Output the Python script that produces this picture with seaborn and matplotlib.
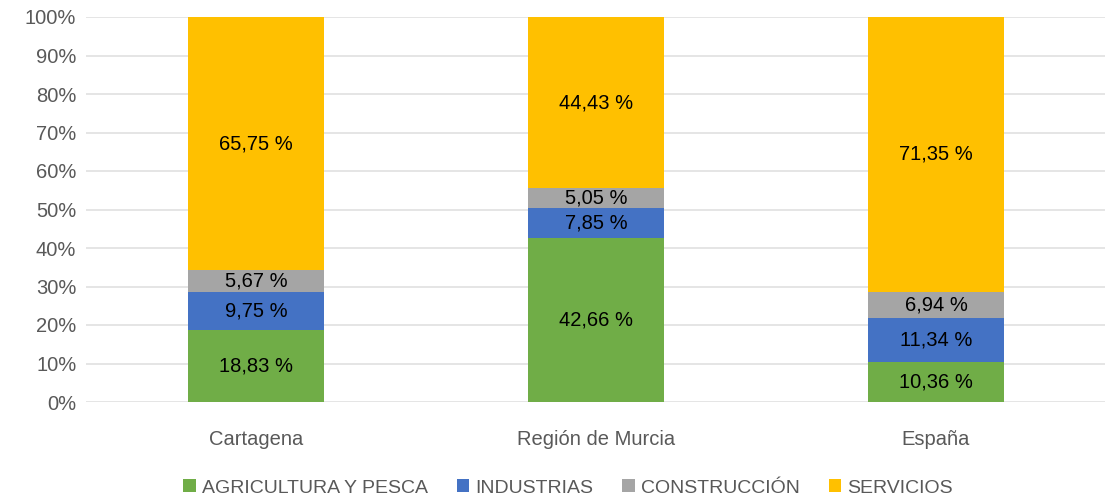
import matplotlib
matplotlib.use("Agg")
import matplotlib.pyplot as plt
import seaborn as sns
import numpy as np
from matplotlib.patches import Patch
from matplotlib.ticker import FixedLocator

categories = ["Cartagena", "Región de Murcia", "España"]
series_names = ["AGRICULTURA Y PESCA", "INDUSTRIAS", "CONSTRUCCIÓN", "SERVICIOS"]
agricultura = [18.83, 42.66, 10.36]
industrias = [9.75, 7.85, 11.34]
construccion = [5.67, 5.05, 6.94]
servicios = [65.75, 44.43, 71.35]
yticks = [0, 10, 20, 30, 40, 50, 60, 70, 80, 90, 100]

colors = ["#70AD47", "#4472C4", "#A5A5A5", "#FFC000"]
series = [agricultura, industrias, construccion, servicios]

sns.set_theme(style="white")
plt.rcParams["font.family"] = ["Liberation Sans", "DejaVu Sans"]

fig = plt.figure(figsize=(11.05, 5.0), dpi=100)
ax = fig.add_axes([86 / 1105, 98 / 500, 1020 / 1105, 385 / 500])

bottom = np.zeros(len(categories))
for name, vals, col in zip(series_names, series, colors):
    sns.barplot(x=categories, y=vals, bottom=bottom, color=col, width=0.4,
                ax=ax, zorder=3, saturation=1, linewidth=0)
    bottom = bottom + np.array(vals)

# labels
cum = np.zeros(len(categories))
for vals in series:
    for i, v in enumerate(vals):
        ax.text(i, cum[i] + v / 2, f"{v:.2f} %".replace(".", ","), ha="center",
                va="center", fontsize=14.5, color="black", zorder=5)
    cum = cum + np.array(vals)

ax.set_ylim(0, 100)
ax.set_xlim(-0.5, 2.5)
ax.yaxis.set_major_locator(FixedLocator(yticks))
ax.set_yticklabels([f"{t}%" for t in yticks])
ax.yaxis.grid(True, color="#E0E0E0", linewidth=1.2, zorder=0)
ax.set_axisbelow(True)
for s in ax.spines.values():
    s.set_visible(False)
ax.tick_params(axis="both", length=0, labelsize=14.5, colors="#595959", pad=7)
ax.tick_params(axis="x", pad=20)
ax.set_xlabel("")
ax.set_ylabel("")

handles = [Patch(facecolor=c, edgecolor="none", label=n) for c, n in zip(colors, series_names)]
leg = fig.legend(handles=handles, loc="center", bbox_to_anchor=(568 / 1105, 12 / 500),
                 ncol=4, frameon=False, fontsize=14, handlelength=0.65, handleheight=0.65,
                 handletextpad=0.3, columnspacing=1.5)
for t in leg.get_texts():
    t.set_color("#595959")

fig.savefig("out.png", dpi=100)
